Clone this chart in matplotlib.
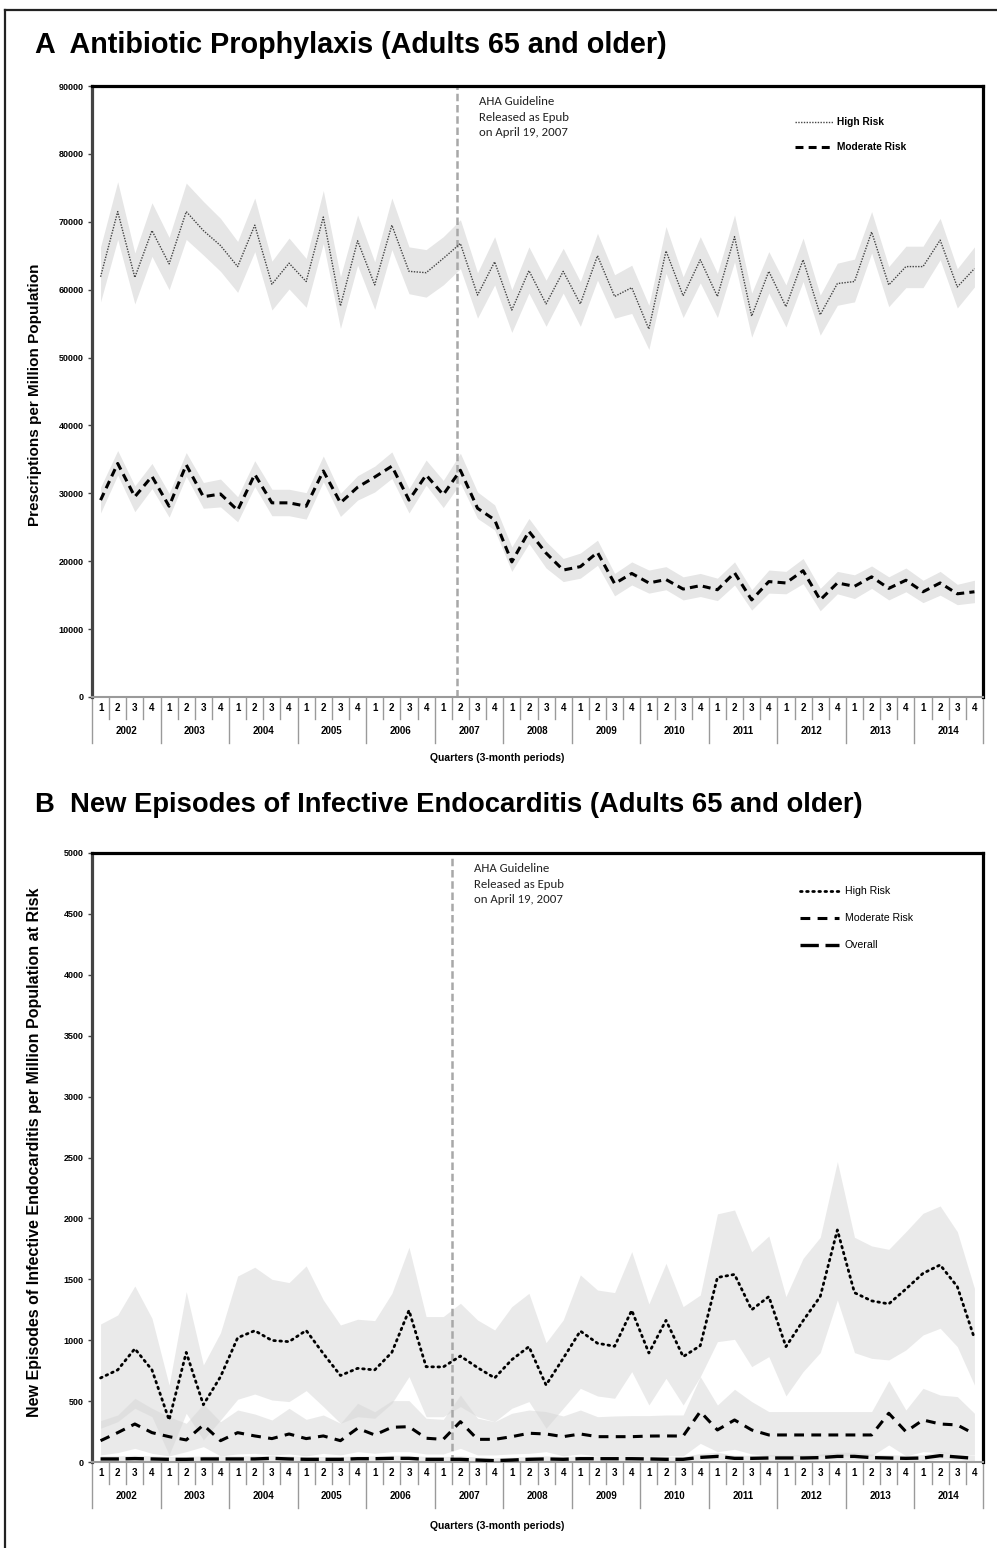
import matplotlib
matplotlib.use("Agg")
import matplotlib.pyplot as plt
from matplotlib import font_manager
from matplotlib.lines import Line2D
from matplotlib.transforms import blended_transform_factory

# ---------------- data ----------------
years = list(range(2002, 2015))
quarter_labels = [1, 2, 3, 4] * len(years)

# Panel A: antibiotic prophylaxis prescriptions per million
a_high = [61900, 71500, 61800, 68700, 63800, 71500, 68700, 66500, 63400, 69500,
          60800, 63900, 61200, 70700, 57600, 67200, 60700, 69500, 62700, 62500,
          64600, 66800, 59200, 64100, 57000, 62800, 57900, 62700, 57900, 65000,
          59000, 60300, 54200, 65700, 59100, 64400, 59000, 67800, 56100, 62700,
          57500, 64400, 56300, 60900, 61200, 68500, 60700, 63400, 63400, 67300,
          60400, 63100]
a_high_hi = [66300, 75900, 65400, 72800, 67700, 75700, 73000, 70500, 67100, 73500,
             64200, 67600, 64600, 74600, 61900, 71000, 64100, 73500, 66300, 65900,
             67800, 70300, 62500, 67800, 60000, 66300, 61400, 66100, 61200, 68300,
             62200, 63600, 57700, 69300, 61900, 67800, 62400, 71000, 59500, 65600,
             60700, 67600, 59200, 63900, 64500, 71500, 63400, 66400, 66400, 70500,
             63100, 66300]
a_high_lo = [58200, 67400, 57900, 64900, 60000, 67400, 65100, 62700, 59600, 65600,
             57000, 60100, 57400, 66800, 54300, 63600, 57100, 65900, 59400, 58900,
             60700, 63100, 55800, 60700, 53700, 59500, 54600, 59500, 54600, 61400,
             55800, 56500, 51200, 62400, 55900, 61000, 55900, 64100, 53000, 59500,
             54500, 61200, 53300, 57700, 58200, 65400, 57500, 60300, 60300, 64400,
             57300, 60400]
a_mod = [29000, 34400, 29500, 32500, 28100, 34200, 29500, 29900, 27500, 32800,
         28600, 28600, 28100, 33300, 28600, 30900, 32400, 34000, 29000, 32700,
         29800, 33400, 27800, 26100, 19900, 24400, 21200, 18700, 19200, 21300,
         16700, 18200, 16800, 17300, 15900, 16400, 15800, 18300, 14300, 17000,
         16800, 18600, 14300, 16800, 16300, 17700, 16000, 17200, 15500, 16800,
         15200, 15500]
a_mod_hi = [30900, 36300, 31100, 34400, 30000, 36000, 31600, 32100, 29500, 34800,
            30600, 30600, 30100, 35500, 30000, 32600, 34000, 36100, 30700, 34900,
            31900, 35900, 30200, 28300, 22100, 26300, 22900, 20400, 21200, 23100,
            18200, 19900, 18700, 19200, 17700, 18200, 17500, 19900, 15800, 18700,
            18500, 20400, 16000, 18500, 18000, 19300, 17700, 19000, 17200, 18500,
            16600, 17200]
a_mod_lo = [27100, 32700, 27300, 30700, 26500, 32500, 27800, 28000, 25800, 31000,
            26700, 26700, 26200, 31700, 26600, 29000, 30200, 32200, 27100, 31200,
            27900, 31500, 26300, 24600, 18500, 22600, 19000, 17000, 17500, 19400,
            14900, 16500, 15300, 15800, 14300, 14800, 14200, 16500, 12800, 15300,
            15200, 16700, 12700, 15200, 14500, 16000, 14300, 15500, 13900, 15000,
            13600, 13900]

# Panel B: new episodes of infective endocarditis per million at risk
b_high = [690, 756, 930, 756, 345, 900, 470, 700, 1020, 1078,
          998, 988, 1080, 890, 710, 769, 756, 900, 1245, 782,
          780, 870, 775, 690, 840, 947, 632, 851, 1075, 975,
          950, 1245, 895, 1163, 865, 955, 1515, 1540, 1250, 1358,
          947, 1160, 1358, 1905, 1390, 1323, 1298, 1420, 1549, 1618,
          1440, 1015]
b_high_hi = [1133, 1207, 1445, 1180, 632, 1399, 797, 1062, 1527, 1599,
             1500, 1473, 1610, 1330, 1125, 1172, 1161, 1385, 1763, 1194,
             1194, 1303, 1166, 1084, 1276, 1385, 980, 1166, 1536, 1412,
             1391, 1727, 1298, 1631, 1276, 1371, 2037, 2069, 1727, 1856,
             1358, 1672, 1845, 2466, 1845, 1774, 1746, 1891, 2042, 2102,
             1891, 1426]
b_high_lo = [277, 331, 441, 372, 58, 400, 181, 345, 515, 558,
             509, 496, 586, 455, 318, 372, 359, 482, 701, 372,
             372, 455, 372, 331, 441, 496, 277, 441, 605, 542,
             523, 742, 468, 687, 468, 701, 988, 1007, 783, 865,
             542, 742, 898, 1330, 898, 851, 838, 920, 1043, 1098,
             947, 632]
b_mod = [175, 241, 312, 241, 208, 181, 304, 175, 241, 214,
         192, 230, 192, 214, 175, 277, 222, 285, 290, 195,
         186, 331, 186, 186, 208, 236, 230, 208, 230, 208,
         208, 208, 213, 214, 213, 414, 263, 345, 263, 222,
         222, 222, 222, 222, 222, 222, 400, 249, 345, 312,
         304, 230]
b_mod_hi = [340, 386, 523, 441, 372, 318, 476, 331, 427, 394,
            345, 441, 350, 386, 318, 482, 413, 504, 504, 359,
            350, 550, 359, 331, 400, 427, 414, 378, 427, 372,
            378, 381, 381, 386, 386, 701, 468, 597, 496, 414,
            414, 414, 414, 414, 414, 414, 668, 427, 605, 550,
            537, 400]
b_mod_lo = [58, 77, 112, 71, 50, 85, 126, 50, 66, 71,
            58, 66, 50, 71, 58, 85, 71, 85, 85, 66,
            66, 112, 58, 58, 66, 71, 85, 50, 66, 50,
            50, 50, 50, 50, 50, 153, 85, 104, 66, 50,
            50, 50, 50, 50, 50, 50, 140, 50, 85, 77,
            71, 58]
b_all = [25, 25, 28, 25, 22, 22, 25, 25, 25, 25,
         30, 25, 22, 22, 22, 27, 27, 30, 30, 22,
         22, 22, 16, 11, 16, 22, 25, 22, 27, 27,
         27, 27, 25, 22, 22, 38, 46, 30, 30, 33,
         33, 33, 36, 46, 46, 36, 33, 30, 33, 52,
         41, 30]
b_all_hi = [50, 50, 55, 50, 45, 45, 50, 50, 50, 50,
            55, 50, 45, 45, 45, 50, 50, 55, 55, 45,
            45, 50, 40, 35, 40, 45, 50, 45, 50, 50,
            50, 50, 50, 45, 45, 70, 80, 55, 55, 60,
            60, 60, 65, 80, 80, 65, 60, 55, 60, 85,
            70, 55]
b_all_lo = [8, 8, 10, 8, 5, 5, 8, 8, 8, 8,
            10, 8, 5, 5, 5, 8, 8, 10, 10, 5,
            5, 5, 2, 0, 2, 5, 8, 5, 8, 8,
            8, 8, 8, 5, 5, 15, 20, 10, 10, 12,
            12, 12, 15, 20, 20, 15, 12, 10, 12, 25,
            18, 10]

a_yticks = list(range(0, 90001, 10000))
b_yticks = list(range(0, 5001, 500))
guideline_text = "AHA Guideline\nReleased as Epub\non April 19, 2007"

# ---------------- fonts ----------------
names = {f.name for f in font_manager.fontManager.ttflist}
NARROW = "Liberation Sans Narrow" if "Liberation Sans Narrow" in names else "Liberation Sans"
ANNOT = "Carlito" if "Carlito" in names else "Lato"
plt.rcParams["font.family"] = [NARROW, "DejaVu Sans"]

W, H = 997, 1548
fig = plt.figure(figsize=(W / 100, H / 100), dpi=100)

# outer frame (top and left edges visible)
fig.add_artist(Line2D([5 / W, 1.0], [1 - 10 / H, 1 - 10 / H], color="#222222", lw=1.6,
                      transform=fig.transFigure))
fig.add_artist(Line2D([5 / W, 5 / W], [1 - 10 / H, 0.0], color="#222222", lw=1.6,
                      transform=fig.transFigure))

x = list(range(len(years) * 4))


def make_axes(top_px, bottom_px):
    left, right = 92, 983
    return fig.add_axes([left / W, 1 - bottom_px / H, (right - left) / W, (bottom_px - top_px) / H])


def style_axes(ax, h_px, yticks):
    ax.set_xlim(-0.5, len(x) - 0.5)
    ax.set_ylim(yticks[0], yticks[-1])
    ax.set_yticks(yticks)
    ax.set_yticklabels([str(v) for v in yticks], fontsize=6.5, fontweight="bold", family=NARROW)
    ax.tick_params(axis="y", length=3, width=1, color="#444444", pad=3)
    ax.set_xticks([])
    for side in ("top", "right"):
        ax.spines[side].set_color("black")
        ax.spines[side].set_linewidth(2.3)
    ax.spines["left"].set_color("#444444")
    ax.spines["left"].set_linewidth(2.3)
    ax.spines["bottom"].set_color("#9a9a9a")
    ax.spines["bottom"].set_linewidth(1.5)
    trans = blended_transform_factory(ax.transData, ax.transAxes)
    q_len, y_len = 22 / h_px, 46 / h_px
    for b in range(len(x) + 1):
        bx = b - 0.5
        ln = y_len if b % 4 == 0 else q_len
        ax.plot([bx, bx], [0, -ln], transform=trans, color="#9a9a9a", lw=1.0, clip_on=False)
    for i, q in enumerate(quarter_labels):
        ax.text(i, -11 / h_px, str(q), transform=trans, ha="center", va="center",
                fontsize=7, fontweight="bold", family=NARROW)
    for j, yr in enumerate(years):
        ax.text(4 * j + 1.5, -34 / h_px, str(yr), transform=trans, ha="center", va="center",
                fontsize=7, fontweight="bold", family=NARROW)


def fit_text(t, target_px, vertical=False):
    r = fig.canvas.get_renderer()
    bb = t.get_window_extent(r)
    size = bb.height if vertical else bb.width
    t.set_fontsize(t.get_fontsize() * target_px / size)


# ---------------- Panel A ----------------
axA = make_axes(86, 697)
hA = 611
axA.fill_between(x, a_high_lo, a_high_hi, color="#e6e6e6", lw=0, zorder=1)
axA.fill_between(x, a_mod_lo, a_mod_hi, color="#e6e6e6", lw=0, zorder=1)
axA.plot(x, a_high, color="#444444", lw=1.0, ls=(0, (1, 1)), zorder=3)
axA.plot(x, a_mod, color="black", lw=2.2, ls=(0, (2.6, 1.7)), zorder=3)
axA.axvline(20.8, color="#a8a8a8", lw=1.8, ls=(0, (3, 1.5)), zorder=2)
style_axes(axA, hA, a_yticks)
axA.text(0.434, 0.983, guideline_text, transform=axA.transAxes, ha="left", va="top",
         fontsize=9.2, family=ANNOT, color="#222222", linespacing=1.5)
# legend A
for yy, kw, lab in [(0.941, dict(color="#444444", lw=1.0, ls=(0, (1, 1))), "High Risk"),
                    (0.900, dict(color="black", lw=2.2, ls=(0, (2.6, 1.7))), "Moderate Risk")]:
    axA.plot([0.789, 0.832], [yy, yy], transform=axA.transAxes, **kw)
    axA.text(0.836, yy, lab, transform=axA.transAxes, ha="left", va="center",
             fontsize=7.3, fontweight="bold", family=NARROW)

tA = fig.text(35 / W, 1 - 45 / H, "A  Antibiotic Prophylaxis (Adults 65 and older)",
              ha="left", va="center", fontsize=20, fontweight="bold", family=NARROW)
fit_text(tA, 630)
yA = fig.text(35 / W, 1 - 395 / H, "Prescriptions per Million Population", rotation=90,
              ha="center", va="center", fontsize=8, fontweight="bold", family=NARROW)
fit_text(yA, 262, vertical=True)
fig.text(497 / W, 1 - 758 / H, "Quarters (3-month periods)", ha="center", va="center",
         fontsize=7.5, fontweight="bold", family=NARROW)

# ---------------- Panel B ----------------
axB = make_axes(853, 1462)
hB = 609
band = "#d6d6d6"
axB.fill_between(x, b_high_lo, b_high_hi, color=band, alpha=0.5, lw=0, zorder=1)
axB.fill_between(x, b_mod_lo, b_mod_hi, color=band, alpha=0.5, lw=0, zorder=1)
axB.fill_between(x, b_all_lo, b_all_hi, color=band, alpha=0.5, lw=0, zorder=1)
sty_high = dict(color="black", lw=2.0, ls=(0, (0.6, 1.6)), dash_capstyle="round")
sty_mod = dict(color="black", lw=2.2, ls=(0, (3.2, 2.4)))
sty_all = dict(color="black", lw=2.4, ls=(0, (5.5, 2.0)))
axB.plot(x, b_high, zorder=3, **sty_high)
axB.plot(x, b_mod, zorder=3, **sty_mod)
axB.plot(x, b_all, zorder=3, **sty_all)
axB.axvline(20.5, color="#a8a8a8", lw=1.8, ls=(0, (3, 1.5)), zorder=2)
style_axes(axB, hB, b_yticks)
axB.text(0.429, 0.983, guideline_text, transform=axB.transAxes, ha="left", va="top",
         fontsize=9.2, family=ANNOT, color="#222222", linespacing=1.5)
for yy, kw, lab in [(0.938, sty_high, "High Risk"),
                    (0.893, sty_mod, "Moderate Risk"),
                    (0.849, sty_all, "Overall")]:
    axB.plot([0.795, 0.838], [yy, yy], transform=axB.transAxes, **kw)
    axB.text(0.845, yy, lab, transform=axB.transAxes, ha="left", va="center",
             fontsize=7.6, family=NARROW)

tB = fig.text(35 / W, 1 - 805 / H, "B  New Episodes of Infective Endocarditis (Adults 65 and older)",
              ha="left", va="center", fontsize=20, fontweight="bold", family=NARROW)
fit_text(tB, 828)
yB = fig.text(35 / W, 1 - 1152 / H, "New Episodes of Infective Endocarditis per Million Population at Risk",
              rotation=90, ha="center", va="center", fontsize=8, fontweight="bold", family=NARROW)
fit_text(yB, 530, vertical=True)
fig.text(497 / W, 1 - 1526 / H, "Quarters (3-month periods)", ha="center", va="center",
         fontsize=7.5, fontweight="bold", family=NARROW)

fig.savefig("out.png", dpi=100, facecolor="white")
